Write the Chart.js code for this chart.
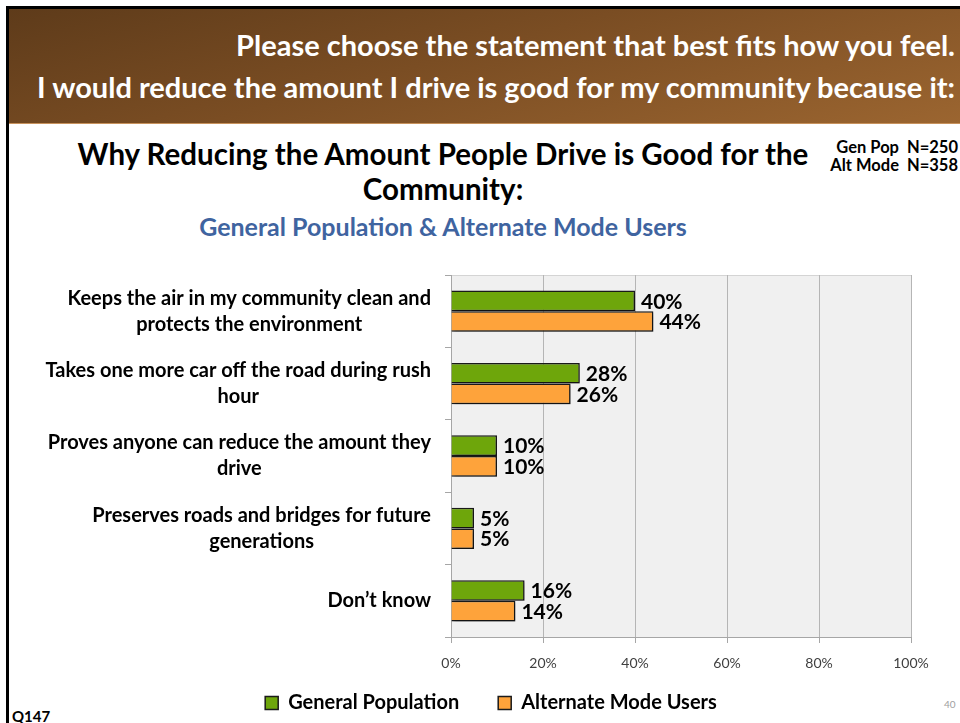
<!DOCTYPE html>
<html>
<head>
<meta charset="utf-8">
<script src="https://cdn.jsdelivr.net/npm/chart.js@4.4.1/dist/chart.umd.min.js"></script>
<style>
  html, body { margin: 0; padding: 0; width: 960px; height: 723px; overflow: hidden; background: #fff; font-family: Lato, "Open Sans", sans-serif; }
  .abs { position: absolute; white-space: nowrap; }
  #frameTop { left: 6px; top: 6px; width: 954px; height: 3px; background: #000; }
  #frameLeft { left: 6px; top: 6px; width: 3px; height: 717px; background: #000; }
  #banner { left: 9px; top: 9px; width: 951px; height: 114px;
    background: linear-gradient(165deg, #5e3b1a 0%, #7a4d23 45%, #9b6530 100%);
    border-bottom: 1px solid #c8925c; }
  .bannerText { right: 5px; color: #fff; font-weight: 700; font-size: 29px; line-height: 34px; text-align: right; }
  .title { color: #000; font-weight: 700; font-size: 29.5px; line-height: 36px; text-align: center; width: 900px; left: -7px; }
  #subtitle { color: #3f64a0; font-weight: 700; font-size: 25px; line-height: 30px; text-align: center; width: 900px; left: -7px; top: 211px; }
  .nlabel { right: 2px; font-weight: 700; font-size: 16.5px; line-height: 18px; text-align: right; color: #000; }
  #q { left: 12px; top: 707px; font-weight: 700; font-size: 15px; line-height: 18px; color: #000; }
  #pg { left: 944px; top: 698px; font-size: 10px; line-height: 12px; color: #a0a0a0; }
  #chartBox { position: absolute; left: 0; top: 0; width: 960px; height: 723px; }
</style>
</head>
<body>
<div id="frameTop" class="abs"></div>
<div id="frameLeft" class="abs"></div>
<div id="banner" class="abs"></div>
<div class="abs bannerText" style="top:28px;">Please choose the statement that best fits how you feel.</div>
<div class="abs bannerText" style="top:70px;">I would reduce the amount I drive is good for my community because it:</div>
<div class="abs title" style="top:136px;">Why Reducing the Amount People Drive is Good for the</div>
<div class="abs title" style="top:171px;">Community:</div>
<div id="subtitle" class="abs">General Population &amp; Alternate Mode Users</div>
<div class="abs nlabel" style="top:138px;">Gen Pop&nbsp;&nbsp;N=250</div>
<div class="abs nlabel" style="top:156px;">Alt Mode&nbsp;&nbsp;N=358</div>
<div id="q" class="abs">Q147</div>
<div id="pg" class="abs">40</div>
<div id="chartBox"><canvas id="c"></canvas></div>

<script>
// Survey answers (share of respondents, %)
const categories = [
  ["Keeps the air in my community clean and", "protects the environment"],
  ["Takes one more car off the road during rush", "hour"],
  ["Proves anyone can reduce the amount they", "drive"],
  ["Preserves roads and bridges for future", "generations"],
  ["Don\u2019t know"]
];
const seriesNames = ["General Population", "Alternate Mode Users"];
const generalPopulation = [40, 28, 10, 5, 16];
const alternateModeUsers = [44, 26, 10, 5, 14];
const xTickLabels = ["0%", "20%", "40%", "60%", "80%", "100%"];

const FONT = "Lato, 'Open Sans', sans-serif";

// Plot background and top border line
const plotBackground = {
  id: 'plotBackground',
  beforeDraw(chart) {
    const { ctx, chartArea: a } = chart;
    ctx.save();
    ctx.fillStyle = '#f0f0f0';
    ctx.fillRect(a.left, a.top, a.right - a.left, a.bottom - a.top);
    ctx.strokeStyle = '#d4d4d4';
    ctx.lineWidth = 1;
    ctx.beginPath();
    ctx.moveTo(a.left - 6, a.top + 0.5);
    ctx.lineTo(a.right, a.top + 0.5);
    ctx.stroke();
    ctx.restore();
  }
};

// Category labels: block right-aligned to the axis, lines centred within the block
const categoryLabels = {
  id: 'categoryLabels',
  afterDraw(chart) {
    const { ctx } = chart;
    const y = chart.scales.y;
    const right = chart.chartArea.left - 20;
    const lineH = 26;
    ctx.save();
    ctx.font = "bold 20px " + FONT;
    ctx.fillStyle = '#000';
    ctx.textAlign = 'center';
    ctx.textBaseline = 'middle';
    categories.forEach((lines, i) => {
      const cy = y.getPixelForValue(i);
      const w = Math.max(...lines.map(l => ctx.measureText(l).width));
      const cx = right - w / 2;
      const y0 = cy - (lines.length - 1) * lineH / 2;
      lines.forEach((l, k) => ctx.fillText(l, cx, y0 + k * lineH));
    });
    ctx.restore();
  }
};

// Value labels at the end of each bar
const valueLabels = {
  id: 'valueLabels',
  afterDatasetsDraw(chart) {
    const { ctx } = chart;
    ctx.save();
    ctx.font = "bold 21px " + FONT;
    ctx.fillStyle = '#000';
    ctx.textAlign = 'left';
    ctx.textBaseline = 'middle';
    chart.data.datasets.forEach((ds, di) => {
      chart.getDatasetMeta(di).data.forEach((bar, i) => {
        ctx.fillText(ds.data[i] + '%', bar.x + 6, bar.y + 1);
      });
    });
    ctx.restore();
  }
};

// Soft drop shadow under the bars
const barShadow = {
  id: 'barShadow',
  beforeDatasetsDraw(chart) {
    const ctx = chart.ctx;
    ctx.save();
    ctx.shadowColor = 'rgba(0,0,0,0.35)';
    ctx.shadowBlur = 3;
    ctx.shadowOffsetX = 2;
    ctx.shadowOffsetY = 2;
  },
  afterDatasetsDraw(chart) {
    chart.ctx.restore();
  }
};

new Chart(document.getElementById('c'), {
  type: 'bar',
  data: {
    labels: categories.map(c => c.join(' ')),
    datasets: [
      { label: seriesNames[0], data: generalPopulation, backgroundColor: '#6ea60b', borderColor: '#1a1a1a', borderWidth: 1.5 },
      { label: seriesNames[1], data: alternateModeUsers, backgroundColor: '#fea33b', borderColor: '#1a1a1a', borderWidth: 1.5 }
    ]
  },
  options: {
    indexAxis: 'y',
    responsive: true,
    maintainAspectRatio: false,
    animation: false,
    events: [],
    datasets: { bar: { categoryPercentage: 0.57, barPercentage: 1.0 } },
    layout: { padding: { left: 71, right: 49, top: 275, bottom: 0 } },
    scales: {
      x: {
        type: 'linear',
        min: 0, max: 100,
        afterFit(s) { s.height = 48; },
        grid: { color: '#b5b5b5', lineWidth: 1, tickLength: 6, tickColor: '#a6a6a6' },
        border: { color: '#a6a6a6' },
        ticks: { stepSize: 20, padding: 12, color: '#404040', font: { family: FONT, size: 14 },
                 callback: (v, i) => xTickLabels[i], maxRotation: 0, autoSkip: false }
      },
      y: {
        afterFit(s) { s.width = 380; },
        grid: { offset: true, drawOnChartArea: false, tickLength: 6, color: '#a6a6a6' },
        border: { color: '#a6a6a6' },
        ticks: { display: false }
      }
    },
    plugins: {
      legend: {
        position: 'bottom',
        labels: {
          boxWidth: 13, boxHeight: 13, padding: 8,
          color: '#000',
          font: { family: FONT, size: 20, weight: 'bold' },
          // an empty, invisible slot between the two entries widens the gap
          generateLabels(chart) {
            const items = Chart.defaults.plugins.legend.labels.generateLabels(chart);
            const gap = { text: '', fillStyle: 'rgba(0,0,0,0)', strokeStyle: 'rgba(0,0,0,0)', lineWidth: 0, hidden: false, datasetIndex: -1 };
            return [items[0], gap, items[1]];
          }
        }
      },
      tooltip: { enabled: false }
    }
  },
  plugins: [plotBackground, barShadow, valueLabels, categoryLabels]
});
</script>
</body>
</html>
